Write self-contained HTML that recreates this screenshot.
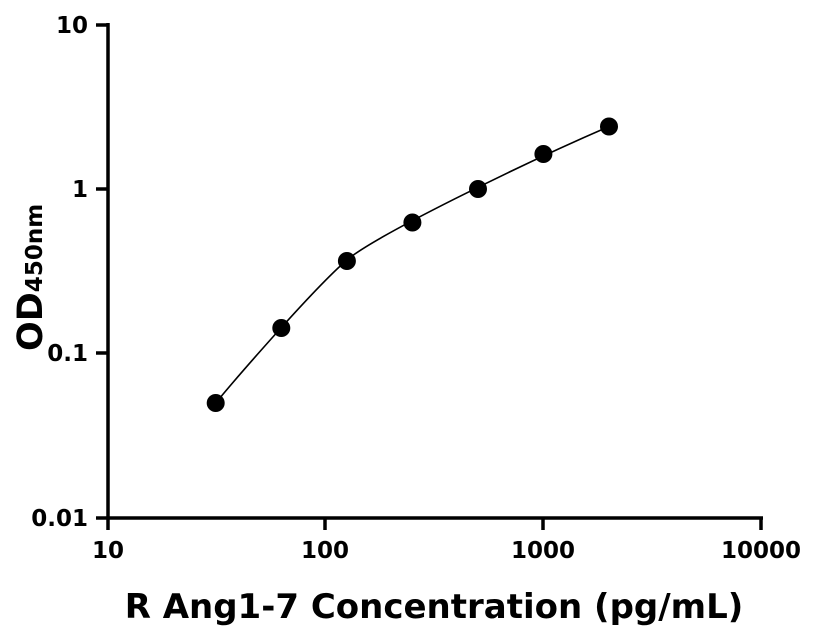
<!DOCTYPE html>
<html><head><meta charset="utf-8"><style>
html,body{margin:0;padding:0;background:#fff;}
svg{display:block;font-family:"DejaVu Sans","Liberation Sans",sans-serif;font-weight:bold;}
</style></head><body>
<svg width="816" height="640" viewBox="0 0 816 640" xmlns="http://www.w3.org/2000/svg">
<g stroke="#000" stroke-width="3.5" fill="none">
<line x1="108" y1="23" x2="108" y2="530"/>
<line x1="96" y1="518" x2="763" y2="518"/>
<line x1="96" y1="25" x2="108" y2="25"/>
<line x1="96" y1="189" x2="108" y2="189"/>
<line x1="96" y1="353" x2="108" y2="353"/>
<line x1="325" y1="518" x2="325" y2="530"/>
<line x1="543" y1="518" x2="543" y2="530"/>
<line x1="761" y1="518" x2="761" y2="530"/>
</g>
<g font-size="23" text-anchor="end" fill="#000">
<text x="88" y="33">10</text>
<text x="88" y="197">1</text>
<text x="88" y="361">0.1</text>
<text x="88" y="526">0.01</text>
</g>
<g font-size="23" text-anchor="middle" fill="#000">
<text x="108" y="558">10</text>
<text x="325" y="558">100</text>
<text x="543" y="558">1000</text>
<text x="761" y="558">10000</text>
</g>
<text x="434" y="618" font-size="34" text-anchor="middle" fill="#000">R Ang1-7 Concentration (pg/mL)</text>
<text transform="translate(42,351) rotate(-90)" fill="#000"><tspan font-size="35">OD</tspan><tspan font-size="23">450nm</tspan></text>
<path d="M215.7,403 C228,388 310,292 346.9,260 C375,236 520,165 609,126.5" stroke="#000" stroke-width="1.6" fill="none"/>
<g fill="#000">
<circle cx="215.7" cy="403" r="9"/>
<circle cx="281.3" cy="328" r="9"/>
<circle cx="346.9" cy="261" r="9"/>
<circle cx="412.4" cy="222.5" r="9"/>
<circle cx="478" cy="189" r="9"/>
<circle cx="543.4" cy="154" r="9"/>
<circle cx="609" cy="126.5" r="9"/>
</g>
</svg>
</body></html>
